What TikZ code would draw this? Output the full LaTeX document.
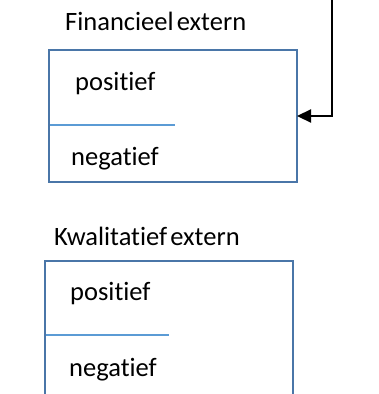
\documentclass[tikz,border=0pt]{standalone}
\usepackage{fontspec}
\setmainfont{Carlito}[Ligatures={NoCommon,NoContextual}]
\usetikzlibrary{arrows.meta}
\definecolor{boxblue}{HTML}{4A76A8}
\definecolor{divblue}{HTML}{5B9BD5}
\tikzset{
  lbl/.style={anchor=base west, inner sep=0pt, font=\fontsize{26.5}{30}\selectfont},
  frame/.style={draw=boxblue, line width=2.2pt},
  divider/.style={draw=divblue, line width=2.2pt},
  conn/.style={draw=black, line width=2.2pt, -{Triangle[length=14pt,width=13pt]}}
}
\begin{document}
\begin{tikzpicture}[x=1pt,y=-1pt]
\useasboundingbox (0,0) rectangle (379,394);
% box 1
\node[lbl] (t1) at (65,30) {{\spaceskip=0.12em Financieel extern}};
\draw[frame] (49,50) rectangle (297,182);
\coordinate (b1e) at (297,116);
\draw[divider] (50,125) -- (175,125);
\node[lbl] (p1) at (75,90) {positief};
\node[lbl] (n1) at (71,165) {negatief};
% arrow
\coordinate (src) at (332,-2);
\coordinate (corner) at (332,116);
\draw[conn] (src) -- (corner) -- (b1e);
% box 2
\node[lbl] (t2) at (54,245) {{\spaceskip=0.12em Kwalitatief extern}};
\draw[frame] (45,400) -- (45,261) -- (293,261) -- (293,400);
\draw[divider] (46,335) -- (169,335);
\node[lbl] (p2) at (70,300) {positief};
\node[lbl] (n2) at (69,376) {negatief};
\end{tikzpicture}
\end{document}
